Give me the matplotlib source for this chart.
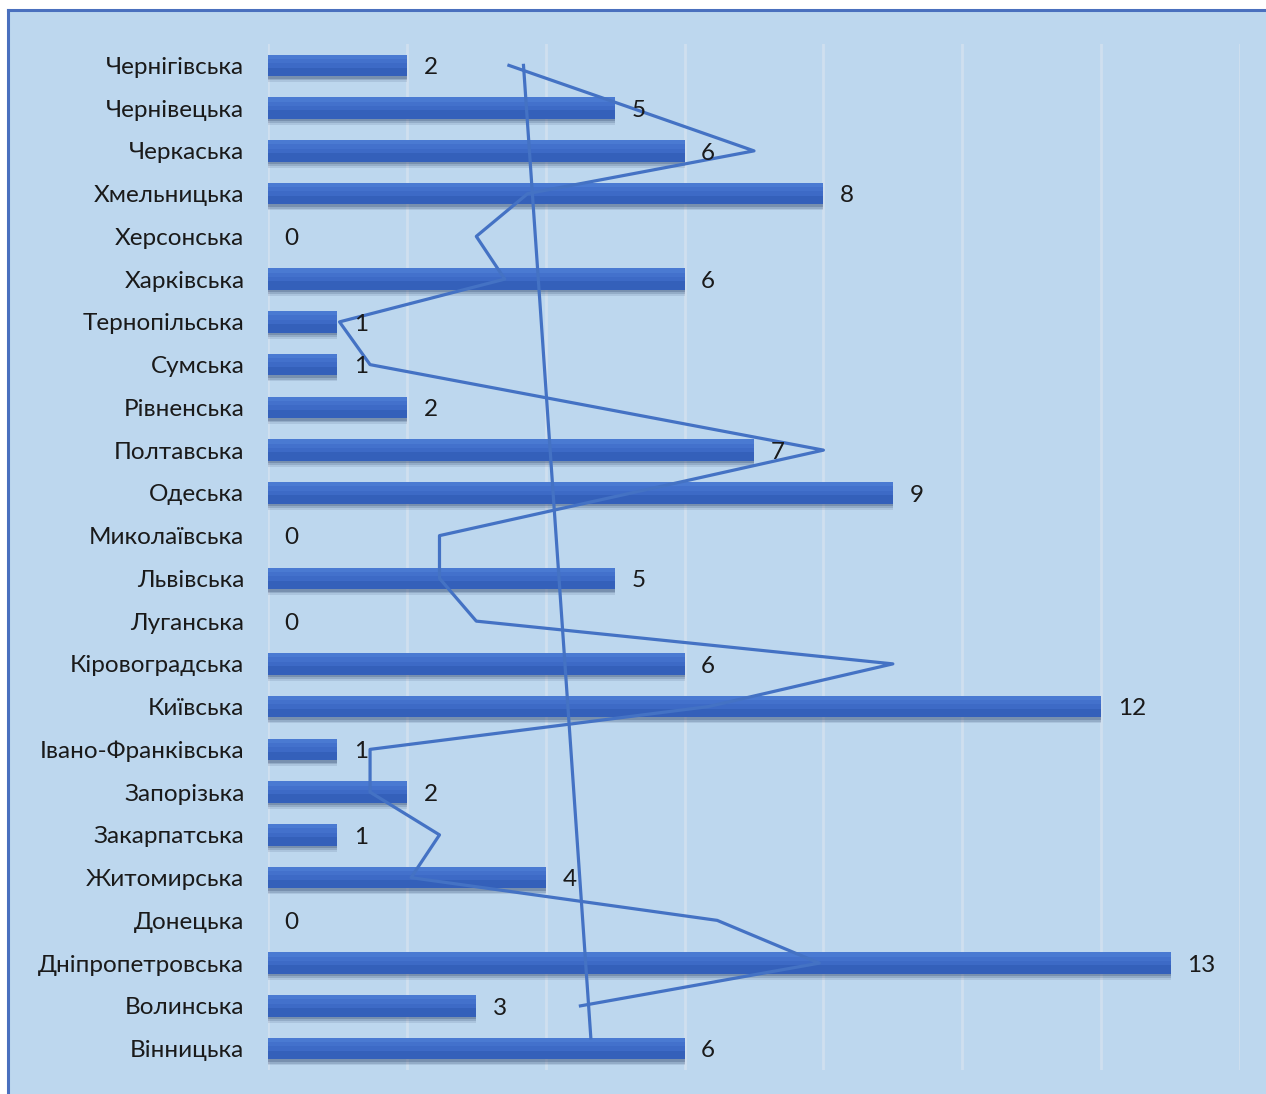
import matplotlib
matplotlib.use("Agg")
import matplotlib.pyplot as plt
from matplotlib.patches import Rectangle

plt.rcParams['font.family'] = ['Lato', 'DejaVu Sans']

# regions, top to bottom as shown
regions = ['Чернігівська', 'Чернівецька', 'Черкаська', 'Хмельницька', 'Херсонська',
           'Харківська', 'Тернопільська', 'Сумська', 'Рівненська', 'Полтавська',
           'Одеська', 'Миколаївська', 'Львівська', 'Луганська', 'Кіровоградська',
           'Київська', 'Івано-Франківська', 'Запорізька', 'Закарпатська',
           'Житомирська', 'Донецька', 'Дніпропетровська', 'Волинська', 'Вінницька']
counts = [2, 5, 6, 8, 0, 6, 1, 1, 2, 7, 9, 0, 5, 0, 6, 12, 1, 2, 1, 4, 0, 13, 3, 6]

# stray line series (Чернігівська .. Волинська)
line_vals = [3.47, 5.24, 7.0, 3.74, 3.0, 3.41, 1.03, 1.47, 4.74, 8.0, 5.24, 2.47,
             2.47, 3.0, 9.0, 6.34, 1.47, 1.47, 2.47, 2.06, 6.47, 7.94, 4.5]
# second stray segment
trend_vals = [3.68, 4.65]
trend_pos = [0, 22.75]

bg = '#BDD7EE'
line_col = '#4472C4'

fig = plt.figure(figsize=(12.66, 10.94), dpi=100)
fig.patch.set_facecolor('white')
# chart area with border
fig.patches.append(Rectangle((8 / 1266, 0), 1.0, 1 - 10 / 1094, transform=fig.transFigure,
                             facecolor=bg, edgecolor='none', zorder=-5))
fig.add_artist(plt.Line2D([8 / 1266, 1], [1 - 10 / 1094] * 2, color='#4A70BE', lw=2.2))
fig.add_artist(plt.Line2D([8 / 1266] * 2, [0, 1 - 10 / 1094], color='#4A70BE', lw=2.2))

ax = fig.add_axes([268 / 1266, 1 - 1070 / 1094, (1240 - 268) / 1266, (1070 - 44) / 1094])
ax.set_zorder(1)
ax.set_facecolor('none')

pos = list(range(len(regions)))

# soft shadow under bars
for off, h, a in [(0.10, 0.58, 0.12), (0.08, 0.54, 0.18), (0.06, 0.50, 0.25)]:
    ax.barh([p + off for p in pos], counts, height=h, color='#2b3f66', alpha=a,
            zorder=2, linewidth=0)
# bar body with a light top and darker lower half
ax.barh(pos, counts, height=0.5, color='#3864C0', zorder=3, linewidth=0)
strips = [(-0.2, 0.1, '#4A7AD2'), (-0.1, 0.1, '#4371CC'), (0.0, 0.1, '#3D6AC6'),
          (0.15, 0.2, '#3460BA')]
for off, h, c in strips:
    ax.barh([p + off for p in pos], counts, height=h, color=c, zorder=4, linewidth=0)

for p, v in zip(pos, counts):
    ax.text(v + 0.24, p + 0.05, str(v), va='center', ha='left', fontsize=17.5,
            color='#1a1a1a', zorder=6)

ax.plot(line_vals, pos[:len(line_vals)], color=line_col, lw=2.3, zorder=5)
ax.plot(trend_vals, trend_pos, color=line_col, lw=2.3, zorder=5)

ax.set_xlim(0, 14)
ax.set_ylim(len(regions) - 0.5, -0.5)
ax.set_xticks(range(0, 15, 2))
ax.set_xticklabels([])
ax.set_yticks(pos)
ax.set_yticklabels(regions, fontsize=17.5, color='#1a1a1a')
ax.tick_params(length=0, pad=17)
ax.tick_params(axis='x', length=0)
ax.grid(axis='x', color='#CFDFEF', lw=2, zorder=1)
ax.set_axisbelow(True)
for s in ax.spines.values():
    s.set_visible(False)

fig.savefig('out.png', dpi=100, facecolor=fig.get_facecolor())
